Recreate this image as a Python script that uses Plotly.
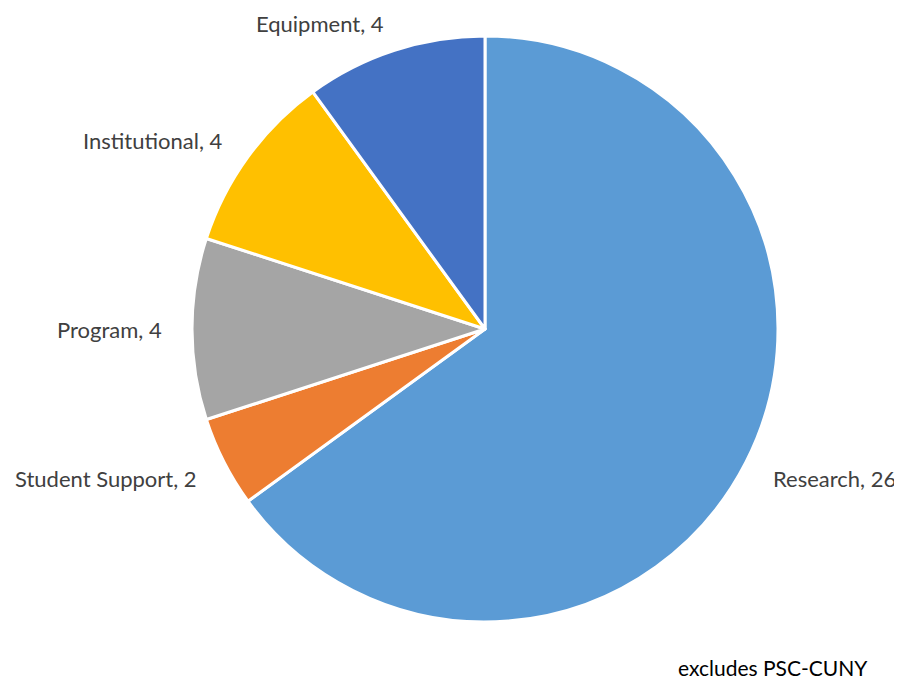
import math
import plotly.graph_objects as go

categories = ["Research", "Student Support", "Program", "Institutional", "Equipment"]
values = [26, 2, 4, 4, 4]
colors = ["#5B9BD5", "#ED7D31", "#A5A5A5", "#FFC000", "#4472C4"]
note = "excludes PSC-CUNY"

# page body has an 8px default margin at top-left
PAGE_MARGIN = 8
W, H = 902 - PAGE_MARGIN, 682 - PAGE_MARGIN
CX, CY, R = 485 - PAGE_MARGIN, 329 - PAGE_MARGIN, 293   # pie centre / radius (px)
LABEL_GAP = 28                                          # label distance beyond the rim
LABEL_VSHIFT_LOWER = 4                                  # extra push down for lower labels

fig = go.Figure(go.Pie(
    labels=categories,
    values=values,
    sort=False,
    direction="clockwise",
    rotation=0,
    marker=dict(colors=colors, line=dict(color="white", width=3)),
    textinfo="none",
    showlegend=False,
    hoverinfo="label+value",
    domain=dict(x=[(CX - R) / W, (CX + R) / W],
                y=[1 - (CY + R) / H, 1 - (CY - R) / H]),
))

# outside-end data labels, positioned at each slice's mid angle
total = sum(values)
cum = 0
for lab, val in zip(categories, values):
    mid = (cum + val / 2) / total * 2 * math.pi
    cum += val
    s, c = math.sin(mid), math.cos(mid)
    px = CX + (R + LABEL_GAP) * s
    py = CY - (R + LABEL_GAP) * c
    if c < -0.05:
        py += LABEL_VSHIFT_LOWER
    xanchor = "left" if s > 0.05 else ("right" if s < -0.05 else "center")
    fig.add_annotation(
        text=f"{lab}, {val}", x=px / W, y=1 - py / H,
        xref="paper", yref="paper", xanchor=xanchor, yanchor="middle",
        showarrow=False, font=dict(family="Lato", size=22, color="#404040"),
    )

fig.add_annotation(
    text=note, x=(676 - PAGE_MARGIN) / W, y=1 - (667 - PAGE_MARGIN) / H,
    xref="paper", yref="paper", xanchor="left", yanchor="middle",
    showarrow=False, font=dict(family="Lato", size=21, color="#000000"),
)

fig.update_layout(
    width=W, height=H,
    margin=dict(l=0, r=0, t=0, b=0),
    paper_bgcolor="white", plot_bgcolor="white",
)
fig.write_html("out.html")
